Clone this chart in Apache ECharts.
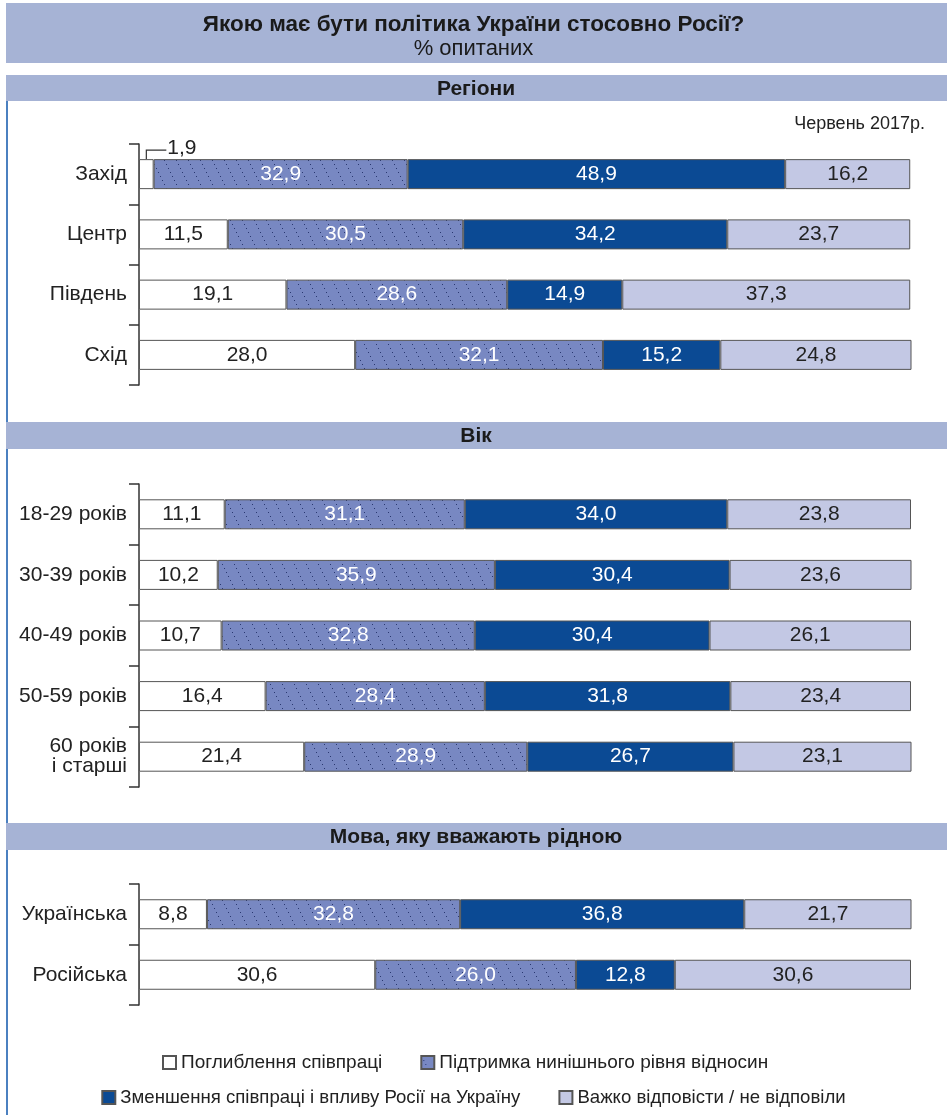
<!DOCTYPE html>
<html><head><meta charset="utf-8">
<script src="https://cdn.jsdelivr.net/npm/echarts/dist/echarts.min.js"></script>
<style>html,body{margin:0;padding:0;background:#fff}#c{width:947px;height:1115px}</style>
</head><body><div id="c"></div>
<script>
// ---- data ----
const seriesNames = ['Поглиблення співпраці', 'Підтримка нинішнього рівня відносин', 'Зменшення співпраці і впливу Росії на Україну', 'Важко відповісти / не відповіли'];
const sectionTitles = ['Регіони', 'Вік', 'Мова, яку вважають рідною'];

const regionCats = ['Захід', 'Центр', 'Південь', 'Схід'];
const regionDeepen = [1.9, 11.5, 19.1, 28.0];
const regionMaintain = [32.9, 30.5, 28.6, 32.1];
const regionReduce = [48.9, 34.2, 14.9, 15.2];
const regionHard = [16.2, 23.7, 37.3, 24.8];

const ageCats = ['18-29 років', '30-39 років', '40-49 років', '50-59 років', '60 років\nі старші'];
const ageDeepen = [11.1, 10.2, 10.7, 16.4, 21.4];
const ageMaintain = [31.1, 35.9, 32.8, 28.4, 28.9];
const ageReduce = [34.0, 30.4, 30.4, 31.8, 26.7];
const ageHard = [23.8, 23.6, 26.1, 23.4, 23.1];

const langCats = ['Українська', 'Російська'];
const langDeepen = [8.8, 30.6];
const langMaintain = [32.8, 26.0];
const langReduce = [36.8, 12.8];
const langHard = [21.7, 30.6];

// ---- styles ----
const SANS = "'Liberation Sans', Arial, sans-serif";
const NARROW = "'Liberation Sans Narrow', 'Liberation Sans', Arial, sans-serif";
const HEADER_BG = '#a6b3d5';

function makeHatch() {
  const c = document.createElement('canvas');
  c.width = 12; c.height = 24;
  const g = c.getContext('2d');
  g.fillStyle = '#7888c2';
  g.fillRect(0, 0, 12, 24);
  for (let y = 0; y < 24; y += 4) {
    const x = Math.round(y / 2);
    g.fillStyle = '#2a3870';
    g.fillRect(x, y, 1, 1);
  }
  return c;
}
const hatch = { image: makeHatch(), repeat: 'repeat' };

const fills = ['#ffffff', hatch, '#0b4a94', '#c3c8e4'];
const labelColors = ['#222', '#ffffff', '#ffffff', '#222'];
const fmt = v => v.toFixed(1).replace('.', ',');

const sections = [
  { cats: regionCats, vals: [regionDeepen, regionMaintain, regionReduce, regionHard], top: 144, height: 241 },
  { cats: ageCats, vals: [ageDeepen, ageMaintain, ageReduce, ageHard], top: 484, height: 303 },
  { cats: langCats, vals: [langDeepen, langMaintain, langReduce, langHard], top: 884, height: 121 }
];
const headerBands = [[75, 101], [422, 449], [823, 850]];

const grids = [], xAxes = [], yAxes = [], series = [];
sections.forEach((s, gi) => {
  grids.push({ left: 139, right: 36, top: s.top, height: s.height });
  xAxes.push({ type: 'value', gridIndex: gi, min: 0, max: 100, show: false });
  yAxes.push({
    type: 'category', gridIndex: gi, data: s.cats, inverse: true,
    axisLine: { show: true, lineStyle: { color: '#333', width: 1.5 } },
    axisTick: { show: true, length: 10, alignWithLabel: false, lineStyle: { color: '#333', width: 1.5 } },
    axisLabel: { margin: 12, fontSize: 21, color: '#222', fontFamily: SANS, lineHeight: 20, align: 'right' },
    splitLine: { show: false }
  });
  s.vals.forEach((arr, k) => {
    series.push({
      name: seriesNames[k], type: 'bar', xAxisIndex: gi, yAxisIndex: gi, stack: 'st' + gi,
      barWidth: 30,
      data: arr.map(v => v < 3 ? { value: v, label: { show: false } } : v),
      itemStyle: { color: fills[k], borderColor: '#555', borderWidth: 1 },
      label: { show: true, position: 'inside', color: labelColors[k], fontSize: 21, fontFamily: SANS, formatter: p => fmt(p.value) },
      emphasis: { disabled: true },
      silent: true
    });
  });
});

const graphics = [
  { type: 'rect', id: 'tbox', shape: { x: 6, y: 3, width: 941, height: 60 }, style: { fill: HEADER_BG }, z: -1 },
  { type: 'line', id: 'lline', shape: { x1: 7, y1: 101, x2: 7, y2: 1115 }, style: { stroke: '#4b80c0', lineWidth: 2 }, z: -2 },
  { type: 'text', id: 'date', right: 22, top: 115, style: { text: 'Червень 2017р.', fontSize: 18, fontFamily: NARROW, fill: '#222' } }
];
headerBands.forEach((b, i) => {
  graphics.push({ type: 'rect', id: 'hb' + i, shape: { x: 6, y: b[0], width: 941, height: b[1] - b[0] }, style: { fill: HEADER_BG }, z: -1 });
  graphics.push({ type: 'text', id: 'ht' + i, x: 476, y: (b[0] + b[1]) / 2 + 1, style: { text: sectionTitles[i], fontSize: 21, fontWeight: 'bold', fontFamily: NARROW, fill: '#1a1a1a', align: 'center', verticalAlign: 'middle' } });
});

const legendCommon = {
  itemWidth: 13, itemHeight: 13, itemGap: 38, icon: 'rect', selectedMode: false, padding: 0
};

const option = {
  animation: false,
  backgroundColor: '#fff',
  title: {
    text: 'Якою має бути політика України стосовно Росії?',
    subtext: '% опитаних',
    left: 'center', top: 8, itemGap: 2,
    textStyle: { fontSize: 22.5, fontWeight: 'bold', fontFamily: NARROW, color: '#1a1a1a' },
    subtextStyle: { fontSize: 22, fontFamily: NARROW, color: '#1a1a1a' }
  },
  legend: [
    Object.assign({ left: 162, top: 1053, data: [seriesNames[0], seriesNames[1]], textStyle: { fontSize: 19, fontFamily: NARROW, color: '#222' } }, legendCommon),
    Object.assign({ left: 'center', top: 1088, data: [seriesNames[2], seriesNames[3]], textStyle: { fontSize: 18.6, fontFamily: NARROW, color: '#222' } }, legendCommon)
  ],
  grid: grids, xAxis: xAxes, yAxis: yAxes, series: series,
  graphic: { elements: graphics }
};

const chart = echarts.init(document.getElementById('c'), null, { renderer: 'canvas' });
chart.setOption(option);

// leader line annotation for small segments
const extra = [];
sections.forEach((s, gi) => {
  s.vals[0].forEach((v, ci) => {
    if (v < 3) {
      const p = chart.convertToPixel({ xAxisIndex: gi, yAxisIndex: gi }, [v / 2, ci]);
      const topY = p[1] - 15;
      extra.push({ type: 'polyline', id: 'ann' + gi + '_' + ci, shape: { points: [[p[0], topY], [p[0], topY - 9], [p[0] + 20, topY - 9]] }, style: { stroke: '#333', lineWidth: 1.2, fill: null } });
      extra.push({ type: 'text', id: 'annt' + gi + '_' + ci, x: p[0] + 21, y: topY - 11, style: { text: fmt(v), fontSize: 21, fontFamily: SANS, fill: '#222', verticalAlign: 'middle' } });
    }
  });
});
chart.setOption({ graphic: { elements: extra } });
</script>
</body></html>
